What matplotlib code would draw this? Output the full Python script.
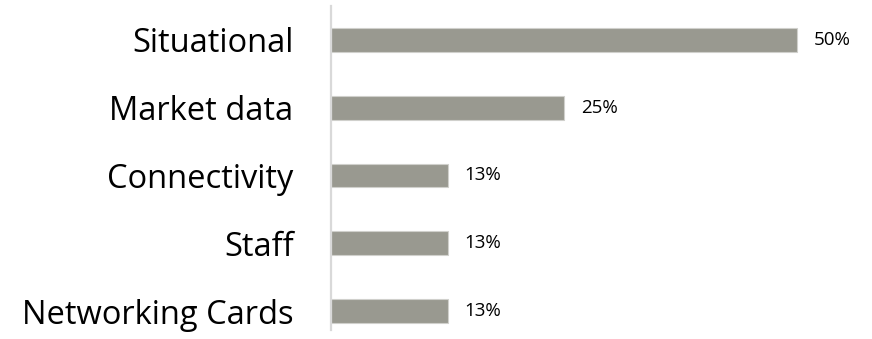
import matplotlib.pyplot as plt

categories = ["Situational", "Market data", "Connectivity", "Staff", "Networking Cards"]
shares = [50, 25, 12.5, 12.5, 12.5]
labels = ["50%", "25%", "13%", "13%", "13%"]

plt.rcParams['font.family'] = ['Open Sans', 'DejaVu Sans']

fig = plt.figure(figsize=(8.72, 3.39), dpi=100)
ax = fig.add_axes([331 / 872, 9 / 339, 1 - 331 / 872, 324 / 339])

y = range(len(categories))
ax.barh(y, shares, height=0.35, color="#999990", edgecolor="#d0d0cc", linewidth=0.8)
for i, (v, lab) in enumerate(zip(shares, labels)):
    ax.text(v + 1.8, i, lab, va="center", ha="left", fontsize=13.5, color="#000000")

ax.set_yticks(list(y))
ax.set_yticklabels(categories, fontsize=23.5)
ax.tick_params(axis="y", length=0, pad=27)
ax.set_xticks([])
ax.set_xlim(0, 58)
ax.set_ylim(4.28, -0.5)
for side in ["top", "right", "bottom"]:
    ax.spines[side].set_visible(False)
ax.spines["left"].set_color("#d9d9d9")
ax.spines["left"].set_linewidth(1.6)

fig.savefig("out.png", dpi=100)
